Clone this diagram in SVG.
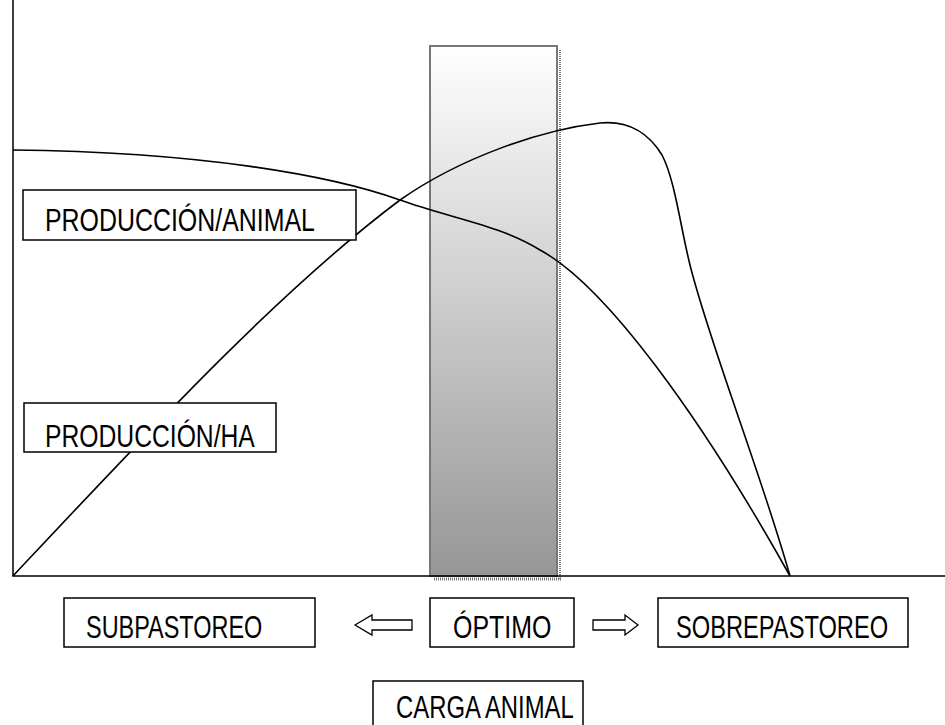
<svg xmlns="http://www.w3.org/2000/svg" width="945" height="725" viewBox="0 0 945 725">
<style>
.box{fill:#fff;stroke:#000;stroke-width:1.5}
.t{font-family:"Liberation Sans",Arial,sans-serif;font-size:31px;fill:#000}
.curve{fill:none;stroke:#000;stroke-width:1.6}
.axis{stroke:#000;stroke-width:1.5;fill:none}
.arr{fill:#fff;stroke:#000;stroke-width:1.3}
</style>
<defs>
<linearGradient id="g" x1="0" y1="0" x2="0" y2="1">
<stop offset="0" stop-color="#ffffff"/>
<stop offset="1" stop-color="#969696"/>
</linearGradient>
</defs>
<rect width="945" height="725" fill="#fff"/>
<g id="optimo-band">
<line x1="560" y1="50" x2="560" y2="580" stroke="#777" stroke-width="2" stroke-dasharray="1,1"/>
<line x1="434" y1="579" x2="561" y2="579" stroke="#777" stroke-width="3" stroke-dasharray="1,1"/>
<rect x="430" y="46" width="127" height="530" fill="url(#g)" stroke="#777" stroke-width="2"/>
</g>
<g id="connectors">
<path class="axis" d="M13,0 V576 H945"/>
<path id="curve-animal" class="curve" d="M13,150 C200,152 330,175 400,200 C450,218 500,225 540,250 C605,285 700,415 790,576"/>
<path id="curve-ha" class="curve" d="M13,576 C150,430 280,290 400,200 C460,158 540,130 600,123 C630,120 650,135 662,155 C675,180 680,225 690,265 C710,345 760,470 790,576"/>
<path id="arrow-left" class="arr" d="M355,625 L372,615 L372,620 L412,620 L412,630 L372,630 L372,635 Z"/>
<path id="arrow-right" class="arr" d="M638,625 L625,615 L625,620 L593,620 L593,630 L625,630 L625,635 Z"/>
</g>
<g id="produccion-animal">
<rect class="box" x="23" y="190" width="333" height="50"/>
<text class="t" transform="matrix(0.78 0 0 1 45 231)" textLength="346" lengthAdjust="spacingAndGlyphs">PRODUCCIÓN/ANIMAL</text>
</g>
<g id="produccion-ha">
<rect class="box" x="24" y="403" width="252" height="49"/>
<text class="t" transform="matrix(0.78 0 0 1 45 447)" textLength="269" lengthAdjust="spacingAndGlyphs">PRODUCCIÓN/HA</text>
</g>
<g id="subpastoreo">
<rect class="box" x="64" y="598" width="251" height="49"/>
<text class="t" transform="matrix(0.78 0 0 1 86 638)" textLength="226" lengthAdjust="spacingAndGlyphs">SUBPASTOREO</text>
</g>
<g id="optimo">
<rect class="box" x="430" y="598" width="144" height="49"/>
<text class="t" transform="matrix(0.78 0 0 1 453 638)" textLength="126" lengthAdjust="spacingAndGlyphs">ÓPTIMO</text>
</g>
<g id="sobrepastoreo">
<rect class="box" x="658" y="598" width="250" height="49"/>
<text class="t" transform="matrix(0.78 0 0 1 676 638)" textLength="272" lengthAdjust="spacingAndGlyphs">SOBREPASTOREO</text>
</g>
<g id="carga-animal">
<rect class="box" x="373" y="681" width="210" height="50"/>
<text class="t" transform="matrix(0.78 0 0 1 396 718)" textLength="228" lengthAdjust="spacingAndGlyphs">CARGA ANIMAL</text>
</g>
</svg>
